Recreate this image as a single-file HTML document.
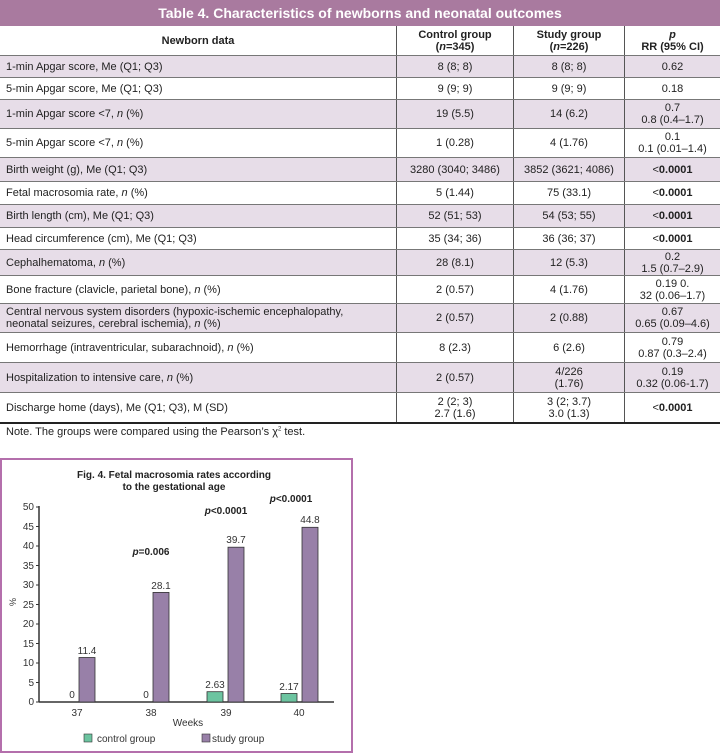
<!DOCTYPE html>
<html><head><meta charset="utf-8">
<style>
*{margin:0;padding:0;box-sizing:border-box}
body{width:720px;height:756px;background:#fff;font-family:"Liberation Sans",sans-serif;color:#222;position:relative;overflow:hidden}
.t{position:absolute;left:0;width:720px;height:26px;background:#a97a9f;color:#fff;font-weight:bold;font-size:14px;text-align:center;line-height:26px}
.r{position:absolute;left:0;width:720px;border-bottom:1px solid #777;font-size:11px}
.r.s{background:#e7dde8}
.r>div{position:absolute;top:0;height:100%;display:flex;align-items:center;line-height:12px}
.r>div>span{display:block}
.c0{left:6px;width:388px}
.c1{left:396px;width:117px;justify-content:center;text-align:center;border-left:1px solid #555}
.c2{left:513px;width:111px;justify-content:center;text-align:center;border-left:1px solid #555}
.c3{left:624px;width:96px;justify-content:center;text-align:center;border-left:1px solid #555}
.h{font-weight:bold}
.h .c0{justify-content:center;left:0;width:396px}
b{font-weight:bold}
</style></head><body>
<div class="t" style="top:0">Table 4. Characteristics of newborns and neonatal outcomes</div>
<div class="r h" style="top:26px;height:30px"><div class="c0"><span>Newborn data</span></div><div class="c1"><span>Control group<br>(<i>n</i>=345)</span></div><div class="c2"><span>Study group<br>(<i>n</i>=226)</span></div><div class="c3"><span><i>p</i><br>RR (95% CI)</span></div></div>
<div class="r s" style="top:56px;height:22px"><div class="c0"><span>1-min Apgar score, Me (Q1; Q3)</span></div><div class="c1"><span>8 (8; 8)</span></div><div class="c2"><span>8 (8; 8)</span></div><div class="c3"><span>0.62</span></div></div>
<div class="r" style="top:78px;height:22px"><div class="c0"><span>5-min Apgar score, Me (Q1; Q3)</span></div><div class="c1"><span>9 (9; 9)</span></div><div class="c2"><span>9 (9; 9)</span></div><div class="c3"><span>0.18</span></div></div>
<div class="r s" style="top:100px;height:29px"><div class="c0"><span>1-min Apgar score &lt;7, <i>n</i> (%)</span></div><div class="c1"><span>19 (5.5)</span></div><div class="c2"><span>14 (6.2)</span></div><div class="c3"><span>0.7<br>0.8 (0.4–1.7)</span></div></div>
<div class="r" style="top:129px;height:29px"><div class="c0"><span>5-min Apgar score &lt;7, <i>n</i> (%)</span></div><div class="c1"><span>1 (0.28)</span></div><div class="c2"><span>4 (1.76)</span></div><div class="c3"><span>0.1<br>0.1 (0.01–1.4)</span></div></div>
<div class="r s" style="top:158px;height:24px"><div class="c0"><span>Birth weight (g), Me (Q1; Q3)</span></div><div class="c1"><span>3280 (3040; 3486)</span></div><div class="c2"><span>3852 (3621; 4086)</span></div><div class="c3"><span>&lt;<b>0.0001</b></span></div></div>
<div class="r" style="top:182px;height:23px"><div class="c0"><span>Fetal macrosomia rate, <i>n</i> (%)</span></div><div class="c1"><span>5 (1.44)</span></div><div class="c2"><span>75 (33.1)</span></div><div class="c3"><span>&lt;<b>0.0001</b></span></div></div>
<div class="r s" style="top:205px;height:23px"><div class="c0"><span>Birth length (cm), Me (Q1; Q3)</span></div><div class="c1"><span>52 (51; 53)</span></div><div class="c2"><span>54 (53; 55)</span></div><div class="c3"><span>&lt;<b>0.0001</b></span></div></div>
<div class="r" style="top:228px;height:22px"><div class="c0"><span>Head circumference (cm), Me (Q1; Q3)</span></div><div class="c1"><span>35 (34; 36)</span></div><div class="c2"><span>36 (36; 37)</span></div><div class="c3"><span>&lt;<b>0.0001</b></span></div></div>
<div class="r s" style="top:250px;height:26px"><div class="c0"><span>Cephalhematoma, <i>n</i> (%)</span></div><div class="c1"><span>28 (8.1)</span></div><div class="c2"><span>12 (5.3)</span></div><div class="c3"><span>0.2<br>1.5 (0.7–2.9)</span></div></div>
<div class="r" style="top:276px;height:28px"><div class="c0"><span>Bone fracture (clavicle, parietal bone), <i>n</i> (%)</span></div><div class="c1"><span>2 (0.57)</span></div><div class="c2"><span>4 (1.76)</span></div><div class="c3"><span>0.19 0.<br>32 (0.06–1.7)</span></div></div>
<div class="r s" style="top:304px;height:29px"><div class="c0"><span>Central nervous system disorders (hypoxic-ischemic encephalopathy,<br>neonatal seizures, cerebral ischemia), <i>n</i> (%)</span></div><div class="c1"><span>2 (0.57)</span></div><div class="c2"><span>2 (0.88)</span></div><div class="c3"><span>0.67<br>0.65 (0.09–4.6)</span></div></div>
<div class="r" style="top:333px;height:30px"><div class="c0"><span>Hemorrhage (intraventricular, subarachnoid), <i>n</i> (%)</span></div><div class="c1"><span>8 (2.3)</span></div><div class="c2"><span>6 (2.6)</span></div><div class="c3"><span>0.79<br>0.87 (0.3–2.4)</span></div></div>
<div class="r s" style="top:363px;height:30px"><div class="c0"><span>Hospitalization to intensive care, <i>n</i> (%)</span></div><div class="c1"><span>2 (0.57)</span></div><div class="c2"><span>4/226<br>(1.76)</span></div><div class="c3"><span>0.19<br>0.32 (0.06-1.7)</span></div></div>
<div class="r" style="top:393px;height:31px;border-bottom:2px solid #222"><div class="c0"><span>Discharge home (days), Me (Q1; Q3), M (SD)</span></div><div class="c1"><span>2 (2; 3)<br>2.7 (1.6)</span></div><div class="c2"><span>3 (2; 3.7)<br>3.0 (1.3)</span></div><div class="c3"><span>&lt;<b>0.0001</b></span></div></div>
<div style="position:absolute;left:6px;top:426px;font-size:11px">Note. The groups were compared using the Pearson’s χ<sup style="font-size:6px">2</sup> test.</div>

<svg style="position:absolute;left:0;top:0" width="720" height="756" font-family="Liberation Sans, sans-serif">
<rect x="1" y="459" width="351" height="293" fill="none" stroke="#b46fac" stroke-width="2"/>
<text x="174" y="478" font-size="10" font-weight="bold" text-anchor="middle" fill="#222">Fig. 4. Fetal macrosomia rates according</text>
<text x="174" y="490" font-size="10" font-weight="bold" text-anchor="middle" fill="#222">to the gestational age</text>
<g stroke="#333" stroke-width="1.5"><line x1="39" y1="506" x2="39" y2="702"/><line x1="39" y1="702" x2="334" y2="702"/></g>
<g stroke="#333" stroke-width="1">
<line x1="36" y1="507" x2="39" y2="507"/><line x1="36" y1="526.5" x2="39" y2="526.5"/><line x1="36" y1="546" x2="39" y2="546"/><line x1="36" y1="565.5" x2="39" y2="565.5"/><line x1="36" y1="585" x2="39" y2="585"/><line x1="36" y1="604.5" x2="39" y2="604.5"/><line x1="36" y1="624" x2="39" y2="624"/><line x1="36" y1="643.5" x2="39" y2="643.5"/><line x1="36" y1="663" x2="39" y2="663"/><line x1="36" y1="682.5" x2="39" y2="682.5"/><line x1="36" y1="702" x2="39" y2="702"/></g>
<g font-size="10" fill="#333" text-anchor="end">
<text x="34" y="510">50</text><text x="34" y="530">45</text><text x="34" y="549">40</text><text x="34" y="569">35</text><text x="34" y="588">30</text><text x="34" y="608">25</text><text x="34" y="627">20</text><text x="34" y="647">15</text><text x="34" y="666">10</text><text x="34" y="686">5</text><text x="34" y="705">0</text></g>
<text x="18" y="604" font-size="9" fill="#333" text-anchor="middle" transform="rotate(-90 16 604)">%</text>
<g fill="#9880a8" stroke="#333" stroke-width="0.8">
<rect x="79" y="657.5" width="16" height="44.5"/><rect x="153" y="592.4" width="16" height="109.6"/><rect x="228" y="547.2" width="16" height="154.8"/><rect x="302" y="527.3" width="16" height="174.7"/></g>
<g fill="#6cc4a0" stroke="#333" stroke-width="0.8">
<rect x="207" y="691.7" width="16" height="10.3"/><rect x="281" y="693.5" width="16" height="8.5"/></g>
<g font-size="10" fill="#333" text-anchor="middle">
<text x="72" y="698">0</text><text x="87" y="654">11.4</text>
<text x="146" y="698">0</text><text x="161" y="589">28.1</text>
<text x="215" y="688">2.63</text><text x="236" y="543">39.7</text>
<text x="289" y="690">2.17</text><text x="310" y="523">44.8</text>
<text x="77" y="716">37</text><text x="151" y="716">38</text><text x="226" y="716">39</text><text x="299" y="716">40</text>
<text x="188" y="726">Weeks</text></g>
<g font-size="10" font-weight="bold" fill="#222" text-anchor="middle">
<text x="151" y="555"><tspan font-style="italic">p</tspan>=0.006</text>
<text x="226" y="514"><tspan font-style="italic">p</tspan>&lt;0.0001</text>
<text x="291" y="502"><tspan font-style="italic">p</tspan>&lt;0.0001</text></g>
<rect x="84" y="734" width="8" height="8" fill="#6cc4a0" stroke="#333" stroke-width="0.6"/>
<text x="97" y="742" font-size="10" fill="#333">control group</text>
<rect x="202" y="734" width="8" height="8" fill="#9880a8" stroke="#333" stroke-width="0.6"/>
<text x="212" y="742" font-size="10" fill="#333">study group</text>
</svg>
</body></html>
